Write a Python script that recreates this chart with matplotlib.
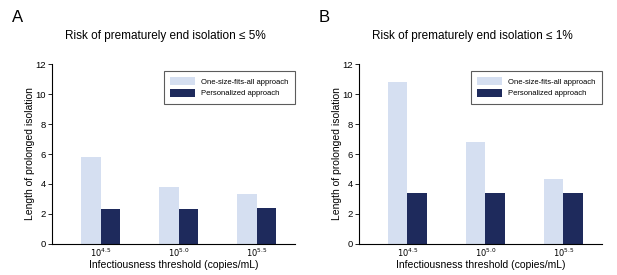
import numpy as np
import matplotlib.pyplot as plt

plt.rcParams['font.family'] = ['Liberation Sans', 'DejaVu Sans']

thresholds = ["$10^{4.5}$", "$10^{5.0}$", "$10^{5.5}$"]
titles = ["Risk of prematurely end isolation \u2264 5%", "Risk of prematurely end isolation \u2264 1%"]
panel_labels = ["A", "B"]
one_size = [[5.8, 3.8, 3.3], [10.8, 6.8, 4.3]]
personal = [[2.3, 2.3, 2.4], [3.4, 3.4, 3.4]]

light = "#d5dff1"
dark = "#1e2a5c"

fig = plt.figure(figsize=(6.17, 2.75), dpi=100)
lefts = [0.085, 0.582]
x = np.arange(len(thresholds))
w = 0.25

for i in range(2):
    ax = fig.add_axes([lefts[i], 0.113, 0.393, 0.654])
    ax.bar(x - w / 2, one_size[i], w, color=light, label="One-size-fits-all approach")
    ax.bar(x + w / 2, personal[i], w, color=dark, label="Personalized approach")
    ax.set_xlim(-0.62, 2.49)
    ax.set_ylim(0, 12)
    ax.set_yticks([0, 2, 4, 6, 8, 10, 12])
    ax.set_xticks(x)
    ax.set_xticklabels(thresholds)
    ax.tick_params(axis='x', length=0, labelsize=6, pad=2)
    ax.tick_params(axis='y', length=3, width=0.6, labelsize=6.8, pad=1.5)
    for s in ['top', 'right']:
        ax.spines[s].set_visible(False)
    for s in ['left', 'bottom']:
        ax.spines[s].set_linewidth(0.8)
    ax.set_xlabel("Infectiousness threshold (copies/mL)", fontsize=7.5, labelpad=1)
    ax.set_ylabel("Length of prolonged isolation", fontsize=7.5, labelpad=0.5)
    leg = ax.legend(loc='upper right', bbox_to_anchor=(1.0, 0.962), borderaxespad=0,
                    fontsize=5.5, frameon=True, fancybox=False, handlelength=3.3,
                    handleheight=1.2, borderpad=0.8, labelspacing=0.45, handletextpad=0.8)
    leg.get_frame().set_edgecolor("#333333")
    leg.get_frame().set_linewidth(0.8)
    fig.text(lefts[i] + 0.183, 0.869, titles[i], fontsize=8.5, ha='center', va='center')
    fig.text(lefts[i] - 0.056, 0.935, panel_labels[i], fontsize=12, ha='center', va='center')

fig.savefig("out.png", dpi=100)
